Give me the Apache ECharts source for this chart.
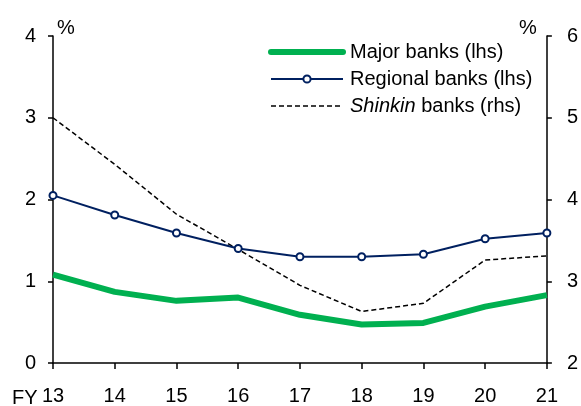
<!DOCTYPE html>
<html>
<head>
<meta charset="utf-8">
<script src="https://cdn.jsdelivr.net/npm/echarts@6/dist/echarts.min.js"></script>
<style>
  html, body { margin: 0; padding: 0; background: #fff; }
  #main { width: 581px; height: 406px; }
</style>
</head>
<body>
<div id="main"></div>
<script>
// fiscal years (x axis)
var years = ['13', '14', '15', '16', '17', '18', '19', '20', '21'];
// lhs, %
var majorBanks = [1.08, 0.87, 0.76, 0.80, 0.59, 0.47, 0.49, 0.69, 0.83];
var regionalBanks = [2.05, 1.81, 1.59, 1.40, 1.30, 1.30, 1.33, 1.52, 1.59];
// rhs, %
var shinkinBanks = [5.00, 4.43, 3.82, 3.39, 2.95, 2.63, 2.73, 3.26, 3.31];

var FONT = 'Liberation Sans, Arial, sans-serif';

var myChart = echarts.init(document.getElementById('main'));

var axisLine = { lineStyle: { color: '#000', width: 1.5 } };
var axisTick = { inside: false, length: 5, lineStyle: { color: '#000', width: 1.5 } };

var option = {
    animation: false,
    grid: { left: 53, right: 31, top: 36, bottom: 42 },
    legend: {
        left: 268,
        top: 42,
        padding: 0,
        orient: 'vertical',
        itemWidth: 72,
        itemHeight: 9,
        itemGap: 7,
        textStyle: {
            fontFamily: FONT, fontSize: 20, color: '#000', padding: [0, 0, 0, 2],
            rich: { i: { fontFamily: FONT, fontSize: 20, fontStyle: 'italic', color: '#000' } }
        },
        formatter: function(name) {
            if (name == 'Shinkin banks (rhs)') return '{i|Shinkin} banks (rhs)';
            return name;
        },
        data: [{
            name: 'Major banks (lhs)',
            itemStyle: { opacity: 0 },
            lineStyle: { color: '#00B050', width: 6, cap: 'round' }
        }, {
            name: 'Regional banks (lhs)',
            lineStyle: { color: '#002060', width: 2 }
        }, {
            name: 'Shinkin banks (rhs)',
            itemStyle: { opacity: 0 },
            lineStyle: { color: '#000', width: 1.5, type: [5, 3] }
        }]
    },
    xAxis: {
        type: 'category',
        data: years,
        boundaryGap: false,
        axisLine: axisLine,
        axisTick: { inside: false, length: 6, interval: 0, lineStyle: { color: '#000', width: 1.5 } },
        axisLabel: { margin: 23, color: '#000', fontSize: 20, fontFamily: FONT, interval: 0 },
        splitLine: { show: false }
    },
    yAxis: [{
        type: 'value',
        min: 0, max: 4, interval: 1,
        position: 'left',
        name: '%',
        nameLocation: 'end',
        nameGap: 8,
        nameTextStyle: { color: '#000', fontSize: 20, fontFamily: FONT, align: 'left', verticalAlign: 'middle', padding: [0, 0, 0, 4] },
        axisLine: Object.assign({ show: true }, axisLine),
        axisTick: Object.assign({ show: true }, axisTick),
        axisLabel: { margin: 17, color: '#000', fontSize: 20, fontFamily: FONT },
        splitLine: { show: false }
    }, {
        type: 'value',
        min: 2, max: 6, interval: 1,
        position: 'right',
        name: '%',
        nameLocation: 'end',
        nameGap: 8,
        nameTextStyle: { color: '#000', fontSize: 20, fontFamily: FONT, align: 'right', verticalAlign: 'middle', padding: [0, 10, 0, 0] },
        axisLine: Object.assign({ show: true }, axisLine),
        axisTick: Object.assign({ show: true }, axisTick),
        axisLabel: { margin: 20, color: '#000', fontSize: 20, fontFamily: FONT },
        splitLine: { show: false }
    }],
    graphic: [{
        type: 'text',
        left: 12,
        top: 388,
        style: { text: 'FY', fontSize: 20, fontFamily: FONT, fill: '#000' }
    }],
    series: [{
        name: 'Major banks (lhs)',
        type: 'line',
        yAxisIndex: 0,
        data: majorBanks,
        symbol: 'none',
        lineStyle: { color: '#00B050', width: 6 },
        itemStyle: { color: '#00B050' },
        z: 3
    }, {
        name: 'Regional banks (lhs)',
        type: 'line',
        yAxisIndex: 0,
        data: regionalBanks,
        symbol: 'circle',
        symbolSize: 7,
        showAllSymbol: true,
        lineStyle: { color: '#002060', width: 2 },
        itemStyle: { color: '#fff', borderColor: '#002060', borderWidth: 2 },
        z: 4
    }, {
        name: 'Shinkin banks (rhs)',
        type: 'line',
        yAxisIndex: 1,
        data: shinkinBanks,
        symbol: 'none',
        lineStyle: { color: '#000', width: 1.5, type: [5, 3] },
        itemStyle: { color: '#000' },
        z: 2
    }]
};

myChart.setOption(option);
</script>
</body>
</html>
